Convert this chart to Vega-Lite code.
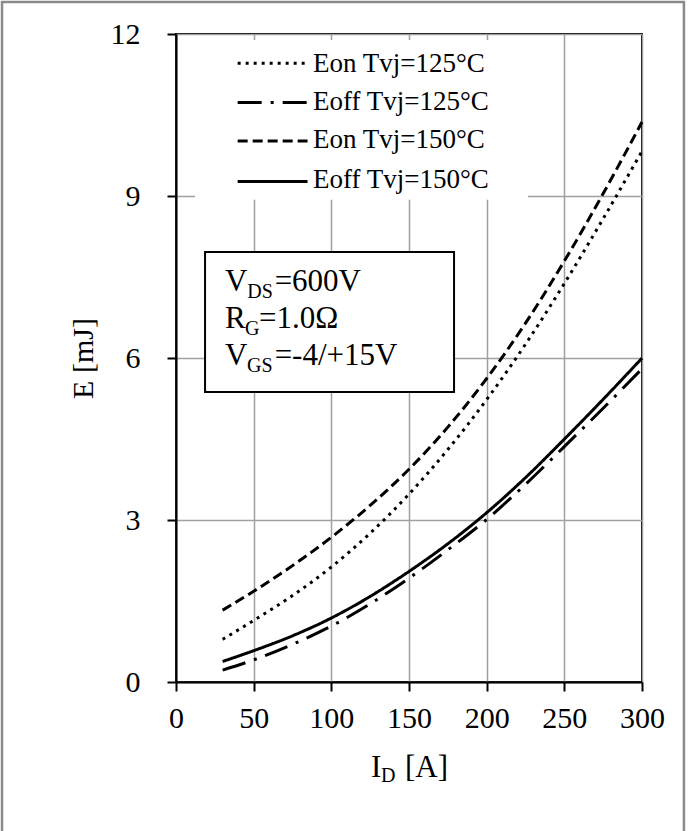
{
  "$schema": "https://vega.github.io/schema/vega-lite/v6.json",
  "width": 466,
  "height": 648,
  "autosize": {"type": "none"},
  "padding": {"left": 176, "top": 34, "right": 52, "bottom": 149},
  "background": "white",
  "config": {
    "view": {"stroke": "black", "strokeWidth": 2},
    "font": "Liberation Serif",
    "axis": {
      "labelFont": "Liberation Serif",
      "labelFontSize": 30,
      "labelColor": "black",
      "titleFont": "Liberation Serif",
      "titleFontSize": 30,
      "titleFontWeight": "normal",
      "titleColor": "black",
      "domainColor": "black",
      "domainWidth": 2,
      "tickColor": "black",
      "tickWidth": 2,
      "tickSize": 9,
      "gridColor": "#a0a0a0",
      "gridWidth": 1.5,
      "labelFlush": false,
      "labelOverlap": false
    }
  },
  "datasets": {
    "curves": [
      {"series": "Eon Tvj=125°C", "I": 30, "E": 0.79},
      {"series": "Eon Tvj=125°C", "I": 50, "E": 1.14},
      {"series": "Eon Tvj=125°C", "I": 75, "E": 1.60},
      {"series": "Eon Tvj=125°C", "I": 100, "E": 2.13},
      {"series": "Eon Tvj=125°C", "I": 125, "E": 2.755},
      {"series": "Eon Tvj=125°C", "I": 150, "E": 3.48},
      {"series": "Eon Tvj=125°C", "I": 175, "E": 4.305},
      {"series": "Eon Tvj=125°C", "I": 200, "E": 5.23},
      {"series": "Eon Tvj=125°C", "I": 225, "E": 6.255},
      {"series": "Eon Tvj=125°C", "I": 250, "E": 7.38},
      {"series": "Eon Tvj=125°C", "I": 275, "E": 8.58},
      {"series": "Eon Tvj=125°C", "I": 300, "E": 9.83},
      {"series": "Eoff Tvj=125°C", "I": 30, "E": 0.22},
      {"series": "Eoff Tvj=125°C", "I": 50, "E": 0.41},
      {"series": "Eoff Tvj=125°C", "I": 75, "E": 0.6975},
      {"series": "Eoff Tvj=125°C", "I": 100, "E": 1.035},
      {"series": "Eoff Tvj=125°C", "I": 125, "E": 1.4475},
      {"series": "Eoff Tvj=125°C", "I": 150, "E": 1.9225},
      {"series": "Eoff Tvj=125°C", "I": 175, "E": 2.4475},
      {"series": "Eoff Tvj=125°C", "I": 200, "E": 3.01},
      {"series": "Eoff Tvj=125°C", "I": 225, "E": 3.66},
      {"series": "Eoff Tvj=125°C", "I": 250, "E": 4.36},
      {"series": "Eoff Tvj=125°C", "I": 275, "E": 5.07},
      {"series": "Eoff Tvj=125°C", "I": 300, "E": 5.80},
      {"series": "Eon Tvj=150°C", "I": 30, "E": 1.33},
      {"series": "Eon Tvj=150°C", "I": 50, "E": 1.68},
      {"series": "Eon Tvj=150°C", "I": 75, "E": 2.155},
      {"series": "Eon Tvj=150°C", "I": 100, "E": 2.68},
      {"series": "Eon Tvj=150°C", "I": 125, "E": 3.27},
      {"series": "Eon Tvj=150°C", "I": 150, "E": 3.94},
      {"series": "Eon Tvj=150°C", "I": 175, "E": 4.72},
      {"series": "Eon Tvj=150°C", "I": 200, "E": 5.62},
      {"series": "Eon Tvj=150°C", "I": 225, "E": 6.645},
      {"series": "Eon Tvj=150°C", "I": 250, "E": 7.795},
      {"series": "Eon Tvj=150°C", "I": 275, "E": 9.045},
      {"series": "Eon Tvj=150°C", "I": 300, "E": 10.37},
      {"series": "Eoff Tvj=150°C", "I": 30, "E": 0.38},
      {"series": "Eoff Tvj=150°C", "I": 50, "E": 0.58},
      {"series": "Eoff Tvj=150°C", "I": 75, "E": 0.855},
      {"series": "Eoff Tvj=150°C", "I": 100, "E": 1.185},
      {"series": "Eoff Tvj=150°C", "I": 125, "E": 1.585},
      {"series": "Eoff Tvj=150°C", "I": 150, "E": 2.0475},
      {"series": "Eoff Tvj=150°C", "I": 175, "E": 2.56},
      {"series": "Eoff Tvj=150°C", "I": 200, "E": 3.135},
      {"series": "Eoff Tvj=150°C", "I": 225, "E": 3.785},
      {"series": "Eoff Tvj=150°C", "I": 250, "E": 4.4975},
      {"series": "Eoff Tvj=150°C", "I": 275, "E": 5.235},
      {"series": "Eoff Tvj=150°C", "I": 300, "E": 5.9975}
    ],
    "legendItems": [
      {"series": "Eon Tvj=125°C", "I": 39.7, "I2": 84.7, "It": 88.2, "E": 11.46, "Et": 11.296},
      {"series": "Eoff Tvj=125°C", "I": 39.7, "I2": 84.7, "It": 88.2, "E": 10.73, "Et": 10.593},
      {"series": "Eon Tvj=150°C", "I": 39.7, "I2": 84.7, "It": 88.2, "E": 10.02, "Et": 9.889},
      {"series": "Eoff Tvj=150°C", "I": 39.7, "I2": 84.7, "It": 88.2, "E": 9.27, "Et": 9.148}
    ]
  },
  "encoding": {
    "x": {
      "field": "I",
      "type": "quantitative",
      "scale": {"domain": [0, 300], "nice": false, "zero": false},
      "axis": {"values": [0, 50, 100, 150, 200, 250, 300], "title": null, "labelPadding": 12, "grid": true}
    },
    "y": {
      "field": "E",
      "type": "quantitative",
      "scale": {"domain": [0, 12], "nice": false, "zero": false},
      "axis": {"values": [0, 3, 6, 9, 12], "title": "E [mJ]", "labelPadding": 27, "titlePadding": 12, "grid": true}
    }
  },
  "layer": [
    {
      "data": {"values": [{"I": -112, "I2": 327, "E": 12.593, "E2": -3.5}]},
      "mark": {"type": "rect", "fill": null, "fillOpacity": 0, "stroke": "#8a8a8a", "strokeWidth": 2.5, "clip": false},
      "encoding": {"x2": {"field": "I2"}, "y2": {"field": "E2"}}
    },
    {
      "data": {"name": "curves"},
      "mark": {"type": "line", "color": "black", "strokeWidth": 3, "interpolate": "monotone", "strokeCap": "butt"},
      "encoding": {
        "detail": {"field": "series"},
        "strokeDash": {
          "field": "series",
          "type": "nominal",
          "scale": {
            "domain": ["Eon Tvj=125°C", "Eoff Tvj=125°C", "Eon Tvj=150°C", "Eoff Tvj=150°C"],
            "range": [[3, 5], [24, 9, 3, 9], [10, 5], [1, 0]]
          },
          "legend": null
        }
      }
    },
    {
      "data": {"values": [{"I": 12.2, "I2": 226.6, "E": 11.89, "E2": 8.93}]},
      "mark": {"type": "rect", "fill": "white", "stroke": null},
      "encoding": {"x2": {"field": "I2"}, "y2": {"field": "E2"}}
    },
    {
      "data": {"name": "legendItems"},
      "mark": {"type": "rule", "color": "black", "strokeWidth": 3, "strokeCap": "butt"},
      "encoding": {
        "x2": {"field": "I2"},
        "strokeDash": {"field": "series", "type": "nominal", "legend": null}
      }
    },
    {
      "data": {"name": "legendItems"},
      "mark": {"type": "text", "font": "Liberation Serif", "fontSize": 27, "color": "black", "align": "left", "baseline": "alphabetic"},
      "encoding": {
        "x": {"field": "It", "type": "quantitative"},
        "y": {"field": "Et", "type": "quantitative"},
        "text": {"field": "series"}
      }
    },
    {
      "data": {"values": [{"I": 18.7, "I2": 179.0, "E": 7.963, "E2": 5.37}]},
      "mark": {"type": "rect", "fill": "white", "stroke": "black", "strokeWidth": 2},
      "encoding": {"x2": {"field": "I2"}, "y2": {"field": "E2"}}
    },
    {
      "data": {"values": [
        {"I": 31.5, "E": 7.24, "t": "V"},
        {"I": 63.5, "E": 7.24, "t": "=600V"},
        {"I": 31.5, "E": 6.556, "t": "R"},
        {"I": 53.4, "E": 6.556, "t": "=1.0Ω"},
        {"I": 31.5, "E": 5.87, "t": "V"},
        {"I": 63.5, "E": 5.87, "t": "=-4/+15V"},
        {"I": 125.5, "E": -1.754, "t": "I"},
        {"I": 147.4, "E": -1.754, "t": "[A]"}
      ]},
      "mark": {"type": "text", "font": "Liberation Serif", "fontSize": 31, "color": "black", "align": "left", "baseline": "alphabetic", "clip": false},
      "encoding": {"text": {"field": "t"}}
    },
    {
      "data": {"values": [
        {"I": 45.9, "E": 7.11, "t": "DS"},
        {"I": 44.4, "E": 6.43, "t": "G"},
        {"I": 45.7, "E": 5.74, "t": "GS"},
        {"I": 132.0, "E": -1.846, "t": "D"}
      ]},
      "mark": {"type": "text", "font": "Liberation Serif", "fontSize": 20, "color": "black", "align": "left", "baseline": "alphabetic", "clip": false},
      "encoding": {"text": {"field": "t"}}
    }
  ]
}
